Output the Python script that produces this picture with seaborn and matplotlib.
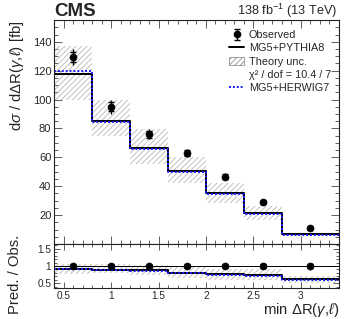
import matplotlib
matplotlib.use('Agg')
import matplotlib.pyplot as plt
import seaborn as sns
import numpy as np
import pandas as pd
from matplotlib.lines import Line2D
from matplotlib.patches import Patch
from matplotlib.ticker import MultipleLocator

# bin edges of min dR(gamma, lepton)
edges = [0.4, 0.8, 1.2, 1.6, 2.0, 2.4, 2.8, 3.4]
centers = [0.6, 1.0, 1.4, 1.8, 2.2, 2.6, 3.1]

# cross sections [fb]
obs = [129.5, 95, 76, 63, 46.7, 28.8, 10.8]
obs_tot = [5.8, 4.7, 3.6, 3.0, 2.6, 2.0, 1.1]
obs_stat = [3.7, 3.0, 2.3, 1.9, 1.7, 1.3, 0.7]
pythia = [118, 85, 66.8, 50.8, 35.6, 21.5, 6.8]
herwig = [120, 84.6, 66, 50, 34.6, 20.8, 6.4]
theo_lo = [100, 74.7, 55.3, 42, 28.2, 16.7, 5.5]
theo_hi = [137, 99.6, 79.3, 60.4, 42.4, 26.3, 7.8]

main_yticks = [20, 40, 60, 80, 100, 120, 140]
ratio_yticks = [0.5, 1, 1.5]
ratio_ylabels = ['0.5', '1', '1.5']
xticks = [0.5, 1, 1.5, 2, 2.5, 3]
xlabels = ['0.5', '1', '1.5', '2', '2.5', '3']

sns.set_style('ticks')
plt.rcParams['font.family'] = ['Liberation Sans', 'DejaVu Sans']
plt.rcParams['mathtext.fontset'] = 'custom'
plt.rcParams['mathtext.rm'] = 'Liberation Sans'
plt.rcParams['mathtext.it'] = 'Liberation Sans:italic'
plt.rcParams['hatch.linewidth'] = 0.6
plt.rcParams['hatch.color'] = '#b8b8b8'


def step(vals):
    # repeat last value so steps-post closes the last bin
    return pd.DataFrame({'x': edges, 'y': list(vals) + [vals[-1]]})


fig = plt.figure(figsize=(3.49, 3.19), dpi=100)
ax = fig.add_axes([0.155, 0.235, 0.816, 0.702])
rax = fig.add_axes([0.155, 0.097, 0.816, 0.138])

# --- main panel
ax.fill_between(edges, list(theo_lo) + [theo_lo[-1]], list(theo_hi) + [theo_hi[-1]],
                step='post', facecolor='none', edgecolor='#b8b8b8', hatch='//////', linewidth=0)
sns.lineplot(data=step(pythia), x='x', y='y', ax=ax, color='black', lw=1.4,
             drawstyle='steps-post', estimator=None)
sns.lineplot(data=step(herwig), x='x', y='y', ax=ax, color='#1a1aff', lw=1.4,
             drawstyle='steps-post', estimator=None, linestyle=(0, (1, 1)))
ax.errorbar(centers, obs, yerr=obs_tot, fmt='none', ecolor='black', elinewidth=1.0)
ax.errorbar(centers, obs, yerr=obs_stat, fmt='none', ecolor='black', elinewidth=1.0, capsize=2.5, capthick=1.0)
sns.scatterplot(x=centers, y=obs, ax=ax, color='black', s=26, edgecolor='black', zorder=5)
# legend-only handle for the observed points
obs_handle = ax.errorbar([np.nan], [np.nan], yerr=[1], fmt='o', ms=4.5, color='black',
                         elinewidth=1.0, capsize=2.0, capthick=1.0)

ax.set_xlim(0.4, 3.4)
ax.set_ylim(0, 155)
ax.set_yticks(main_yticks)
ax.set_xlabel('')
ax.set_ylabel(r'd$\sigma$ / d$\Delta$R($\gamma$,$\ell$) [fb]', fontsize=10.7, loc='top')
ax.tick_params(labelbottom=False)

# --- ratio panel
obs_a = np.array(obs)
rlo = np.array(theo_lo) / obs_a
rhi = np.array(theo_hi) / obs_a
rax.fill_between(edges, list(rlo) + [rlo[-1]], list(rhi) + [rhi[-1]],
                 step='post', facecolor='none', edgecolor='#b8b8b8', hatch='//////', linewidth=0)
rax.axhline(1, color='black', lw=0.7)
sns.lineplot(data=step(list(np.array(pythia) / obs_a)), x='x', y='y', ax=rax, color='black', lw=1.4,
             drawstyle='steps-post', estimator=None)
sns.lineplot(data=step(list(np.array(herwig) / obs_a)), x='x', y='y', ax=rax, color='#1a1aff', lw=1.4,
             drawstyle='steps-post', estimator=None, linestyle=(0, (1, 1)))
ones = np.ones(len(obs))
rax.errorbar(centers, ones, yerr=np.array(obs_tot) / obs_a, fmt='none', ecolor='black', elinewidth=1.0)
rax.errorbar(centers, ones, yerr=np.array(obs_stat) / obs_a, fmt='none', ecolor='black', elinewidth=1.0,
             capsize=2.0, capthick=1.0)
sns.scatterplot(x=centers, y=ones, ax=rax, color='black', s=26, edgecolor='black', zorder=5)

rax.set_xlim(0.4, 3.4)
rax.set_ylim(0.36, 1.64)
rax.set_yticks(ratio_yticks)
rax.set_yticklabels(ratio_ylabels)
rax.set_xticks(xticks)
rax.set_xticklabels(xlabels)
rax.set_ylabel('Pred. / Obs.', fontsize=10.7)
rax.set_xlabel(r'min $\Delta$R($\gamma$,$\ell$)', fontsize=10.7, loc='right')

for a in (ax, rax):
    a.xaxis.set_minor_locator(MultipleLocator(0.1))
    a.tick_params(which='both', direction='in', top=True, right=True,
                  color='#444444', pad=2)
    a.tick_params(which='major', length=6, width=0.6)
    a.tick_params(which='minor', length=3, width=0.6)
    for s in a.spines.values():
        s.set_linewidth(0.8)
        s.set_color('#222222')
ax.tick_params(labelsize=8)
rax.tick_params(labelsize=7.2)
ax.yaxis.set_minor_locator(MultipleLocator(5))
rax.yaxis.set_minor_locator(MultipleLocator(0.1))
rax.tick_params(which='major', length=4)
rax.tick_params(which='minor', length=2)
ax.yaxis.set_label_coords(-0.10, 1.0)
rax.yaxis.set_label_coords(-0.112, 0.3)
rax.xaxis.set_label_coords(1.0, -0.3)

# --- legend
handles = [
    obs_handle,
    Line2D([], [], color='black', lw=1.4),
    Patch(facecolor='none', edgecolor='#909090', hatch='//////', linewidth=0.6),
    Line2D([], [], color='none'),
    Line2D([], [], color='#1a1aff', lw=1.4, linestyle=(0, (1, 1))),
]
labels = ['Observed', 'MG5+PYTHIA8', 'Theory unc.', 'χ² / dof = 10.4 / 7', 'MG5+HERWIG7']
ax.legend(handles, labels, loc='upper left', bbox_to_anchor=(0.6, 0.975), frameon=False,
          fontsize=7.8, handlelength=1.4, handletextpad=0.4, labelspacing=0.3, borderaxespad=0)

fig.text(0.155, 0.95, 'CMS', fontsize=13.5, fontweight='bold', ha='left', va='baseline')
fig.text(0.967, 0.953, r'138 fb$^{-1}$ (13 TeV)', fontsize=9.2, ha='right', va='baseline')

fig.savefig('out.png', dpi=100)
